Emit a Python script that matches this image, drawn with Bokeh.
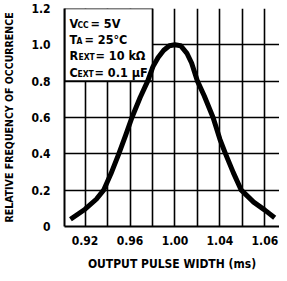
from bokeh.plotting import figure
from bokeh.models import FixedTicker, ColumnDataSource, Range1d
from bokeh.core.properties import value
from bokeh.embed import file_html
from bokeh.resources import INLINE

# ---- data ----
pulse_width = [0.907, 0.92, 0.93, 0.9365, 0.943, 0.950, 0.956, 0.9617, 0.969, 0.9757,
               0.9804, 0.985, 0.990, 0.995, 1.000, 1.005, 1.0105, 1.0148, 1.020, 1.026,
               1.0339, 1.040, 1.045, 1.052, 1.059, 1.07, 1.08, 1.0887]
rel_freq = [0.04, 0.095, 0.15, 0.20, 0.29, 0.40, 0.50, 0.60, 0.71, 0.80,
            0.88, 0.93, 0.97, 0.995, 1.00, 0.995, 0.955, 0.90, 0.80, 0.72,
            0.60, 0.48, 0.40, 0.295, 0.20, 0.134, 0.09, 0.048]

x_tick_values = [0.92, 0.96, 1.00, 1.04, 1.08]
x_tick_labels = ["0.92", "0.96", "1.00", "1.04", "1.06"]
x_grid_values = [0.92, 0.94, 0.96, 0.98, 1.00, 1.02, 1.04, 1.06, 1.08]
y_tick_values = [0, 0.2, 0.4, 0.6, 0.8, 1.0, 1.2]
y_tick_labels = ["0", "0.2", "0.4", "0.6", "0.8", "1.0", "1.2"]

cond_symbol = ["V", "T", "R", "C"]
cond_sub = ["CC", "A", "EXT", "EXT"]
cond_value = ["= 5V", "= 25\u00b0C", "= 10 k\u03a9", "= 0.1 \u03bcF"]

X_START, X_END = 0.9017, 1.093
BOX_RIGHT, BOX_BOTTOM = 0.98, 0.8

FONT = "DejaVu Sans Condensed, DejaVu Sans"

p = figure(width=279, height=273, output_backend="svg", toolbar_location=None,
           x_range=Range1d(X_START, X_END), y_range=Range1d(0, 1.2),
           min_border_left=59, min_border_right=0, min_border_top=8, min_border_bottom=45)
p.outline_line_color = None
p.background_fill_color = "white"
p.border_fill_color = "white"

# grids
p.xgrid.ticker = FixedTicker(ticks=x_grid_values)
p.ygrid.ticker = FixedTicker(ticks=y_tick_values)
for g in (p.xgrid, p.ygrid):
    g.grid_line_color = "black"
    g.grid_line_width = 1.6
    g.grid_line_alpha = 1.0

# axes
p.xaxis.ticker = FixedTicker(ticks=x_tick_values)
p.xaxis.major_label_overrides = {v: l for v, l in zip(x_tick_values, x_tick_labels)}
p.yaxis.ticker = FixedTicker(ticks=y_tick_values)
p.yaxis.major_label_overrides = {v: l for v, l in zip(y_tick_values, y_tick_labels)}
p.xaxis.axis_label = "OUTPUT PULSE WIDTH (ms)"
p.yaxis.axis_label = "RELATIVE FREQUENCY OF OCCURRENCE"
for ax in (p.xaxis, p.yaxis):
    ax.axis_line_color = "black"
    ax.axis_line_width = 2
    ax.major_tick_line_color = None
    ax.minor_tick_line_color = None
    ax.major_tick_out = 0
    ax.major_tick_in = 0
    ax.major_label_text_font = FONT
    ax.major_label_text_font_style = "bold"
    ax.major_label_text_font_size = "12px"
    ax.major_label_text_color = "black"
    ax.axis_label_text_font = FONT
    ax.axis_label_text_font_style = "bold"
    ax.axis_label_text_font_size = "12px"
    ax.axis_label_text_color = "black"
p.yaxis.axis_label_text_font_size = "10.5px"
p.yaxis.major_label_standoff = 14
p.yaxis.axis_label_standoff = 13
p.xaxis.major_label_standoff = 9
p.xaxis.axis_label_standoff = 9

# condition box
p.quad(left=[X_START], right=[BOX_RIGHT], bottom=[BOX_BOTTOM], top=[1.2],
       fill_color="white", line_color="black", line_width=1.6)

line_offsets = [15, 31, 47, 64]
src = ColumnDataSource(dict(
    x=[X_START] * 4, y=[1.2] * 4,
    sym=cond_symbol, sub=cond_sub, val=cond_value,
    yo=line_offsets, yo_sub=[o + 1 for o in line_offsets],
    xo_sym=[5] * 4, xo_sub=[13, 12, 14, 13], xo_val=[26, 20, 31, 30],
))
p.text(x="x", y="y", text="sym", x_offset="xo_sym", y_offset="yo", source=src,
       text_font=value(FONT), text_font_size="12.5px", text_font_style="bold",
       text_baseline="alphabetic", text_color="black")
p.text(x="x", y="y", text="sub", x_offset="xo_sub", y_offset="yo_sub", source=src,
       text_font=value(FONT), text_font_size="8.5px", text_font_style="bold",
       text_baseline="alphabetic", text_color="black")
p.text(x="x", y="y", text="val", x_offset="xo_val", y_offset="yo", source=src,
       text_font=value(FONT), text_font_size="12.5px", text_font_style="bold",
       text_baseline="alphabetic", text_color="black")

# curve
p.line(pulse_width, rel_freq, line_color="black", line_width=5, line_join="round")

open("out.html", "w").write(file_html(p, INLINE))
